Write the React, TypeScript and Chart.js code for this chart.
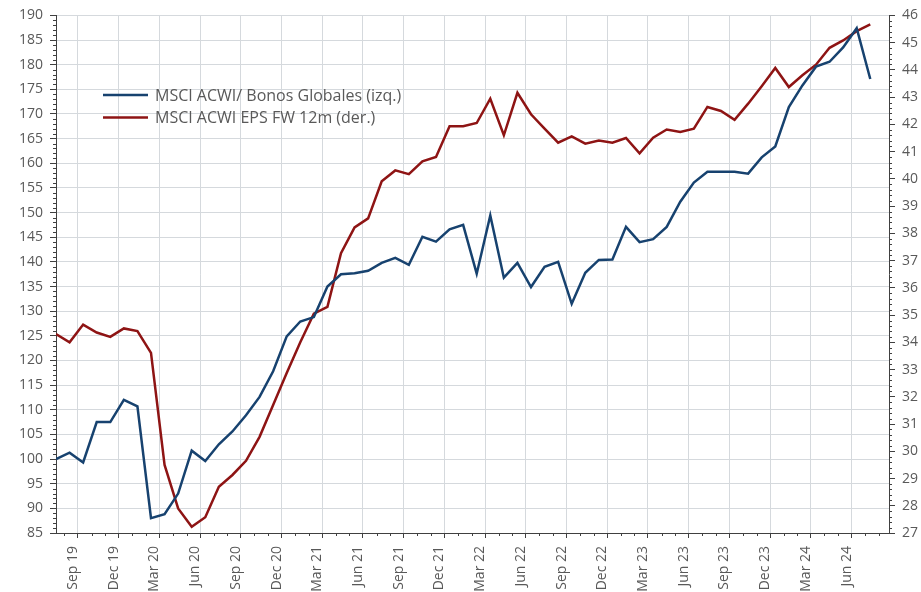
import React, { useEffect, useRef } from 'react';
import { Chart, registerables } from 'chart.js';

Chart.register(...registerables);

// Monthly observations, Jul 2019 .. Jul 2024
const msciBonos: number[] = [
  100, 101.3, 99.3, 107.5, 107.5, 112, 110.7, 88, 88.8, 93,
  101.7, 99.6, 103, 105.6, 108.9, 112.6, 117.8, 124.9, 127.9, 128.8,
  135, 137.5, 137.7, 138.2, 139.8, 140.8, 139.4, 145.1, 144.1, 146.6,
  147.5, 137.6, 149.4, 136.8, 139.8, 134.9, 139, 140, 131.5, 137.8,
  140.4, 140.5, 147.1, 144, 144.6, 147.1, 152.2, 156.1, 158.3, 158.3,
  158.3, 157.9, 161.2, 163.4, 171.4, 175.8, 179.6, 180.6, 183.5, 187.4,
  177.1,
];

const msciEps: number[] = [
  34.3, 34.0, 34.65, 34.36, 34.2, 34.51, 34.41, 33.61, 29.5, 27.9,
  27.23, 27.58, 28.7, 29.13, 29.65, 30.53, 31.7, 32.87, 34.0, 35.05,
  35.3, 37.27, 38.22, 38.55, 39.91, 40.31, 40.17, 40.64, 40.8, 41.93,
  41.93, 42.05, 42.94, 41.6, 43.16, 42.37, 41.84, 41.33, 41.56, 41.29,
  41.41, 41.33, 41.5, 40.94, 41.51, 41.81, 41.72, 41.84, 42.64, 42.49,
  42.17, 42.76, 43.4, 44.07, 43.37, 43.8, 44.19, 44.81, 45.08, 45.42,
  45.67,
];

const xTickLabels: string[] = [
  'Sep 19', 'Dec 19', 'Mar 20', 'Jun 20', 'Sep 20', 'Dec 20', 'Mar 21',
  'Jun 21', 'Sep 21', 'Dec 21', 'Mar 22', 'Jun 22', 'Sep 22', 'Dec 22',
  'Mar 23', 'Jun 23', 'Sep 23', 'Dec 23', 'Mar 24', 'Jun 24',
];

const legendLabels: string[] = [
  'MSCI ACWI/ Bonos Globales (izq.)',
  'MSCI ACWI EPS FW 12m (der.)',
];

// month-start boundaries relative to first observation (first obs mid-July)
const MONTH_START = 0.62;
const X_MAX = 61.38;

const BLUE = '#17426F';
const RED = '#8E1414';
const GRID = '#D5D9DD';
const AXIS = '#404040';
const TEXT = '#595959';
const FONT = "'Open Sans', sans-serif";

const minorTicksPlugin = {
  id: 'minorTicks',
  afterDraw(chart: any) {
    const { ctx, chartArea } = chart;
    const x = chart.scales.x;
    const yL = chart.scales.yL;
    const yR = chart.scales.yR;
    ctx.save();
    ctx.strokeStyle = AXIS;
    ctx.lineWidth = 1;
    ctx.beginPath();
    for (let k = 0; MONTH_START + k <= X_MAX; k++) {
      if (k % 3 === 1) continue;
      const px = Math.round(x.getPixelForValue(MONTH_START + k)) + 0.5;
      ctx.moveTo(px, chartArea.bottom);
      ctx.lineTo(px, chartArea.bottom + 3);
    }
    for (let v = 85; v <= 190; v++) {
      if (v % 5 === 0) continue;
      const py = Math.round(yL.getPixelForValue(v)) + 0.5;
      ctx.moveTo(chartArea.left - 3, py);
      ctx.lineTo(chartArea.left, py);
    }
    for (let j = 0; j <= 95; j++) {
      if (j % 5 === 0) continue;
      const py = Math.round(yR.getPixelForValue(27 + j * 0.2)) + 0.5;
      ctx.moveTo(chartArea.right, py);
      ctx.lineTo(chartArea.right + 3, py);
    }
    ctx.stroke();
    ctx.restore();
  },
};

const legendPlugin = {
  id: 'insideLegend',
  afterDraw(chart: any) {
    const { ctx } = chart;
    ctx.save();
    ctx.font = `16px ${FONT}`;
    ctx.textBaseline = 'middle';
    ctx.fillStyle = TEXT;
    const rows = [95, 117.5];
    chart.data.datasets.forEach((ds: any, i: number) => {
      const y = rows[i];
      ctx.strokeStyle = ds.borderColor;
      ctx.lineWidth = 2.5;
      ctx.beginPath();
      ctx.moveTo(103, y);
      ctx.lineTo(148, y);
      ctx.stroke();
      ctx.fillText(legendLabels[i], 155, y + 1);
    });
    ctx.restore();
  },
};

export default function App() {
  const canvasRef = useRef<HTMLCanvasElement | null>(null);

  useEffect(() => {
    document.body.style.margin = '0';
    const canvas = canvasRef.current;
    if (!canvas) return;
    const chart = new Chart(canvas, {
      type: 'line',
      data: {
        datasets: [
          {
            label: legendLabels[0],
            data: msciBonos.map((v, i) => ({ x: i, y: v })),
            borderColor: BLUE,
            backgroundColor: BLUE,
            borderWidth: 2.5,
            pointRadius: 0,
            tension: 0,
            yAxisID: 'yL',
          },
          {
            label: legendLabels[1],
            data: msciEps.map((v, i) => ({ x: i, y: v })),
            borderColor: RED,
            backgroundColor: RED,
            borderWidth: 2.5,
            pointRadius: 0,
            tension: 0,
            yAxisID: 'yR',
          },
        ],
      },
      options: {
        animation: false,
        responsive: true,
        maintainAspectRatio: false,
        layout: { padding: { top: 15, left: 0, right: 0, bottom: 0 } },
        plugins: {
          legend: { display: false },
          tooltip: { enabled: false },
        },
        scales: {
          x: {
            type: 'linear',
            min: 0,
            max: X_MAX,
            afterBuildTicks(scale: any) {
              scale.ticks = xTickLabels.map((_, j) => ({ value: MONTH_START + 1 + 3 * j }));
            },
            afterFit(scale: any) {
              scale.height = 59;
            },
            grid: {
              color: GRID,
              tickColor: AXIS,
              tickLength: 5,
              drawOnChartArea: true,
            },
            border: { display: true, color: AXIS, width: 1 },
            ticks: {
              autoSkip: false,
              minRotation: 90,
              maxRotation: 90,
              padding: 8,
              labelOffset: -5,
              color: TEXT,
              font: { family: FONT, size: 14 },
              callback: (_v: any, idx: number) => xTickLabels[idx] ?? '',
            },
          },
          yL: {
            type: 'linear',
            position: 'left',
            min: 85,
            max: 190,
            afterFit(scale: any) {
              scale.width = 56;
            },
            grid: { color: GRID, tickColor: AXIS, tickLength: 6 },
            border: { display: true, color: AXIS, width: 1 },
            ticks: {
              stepSize: 5,
              autoSkip: false,
              padding: 7,
              color: TEXT,
              font: { family: FONT, size: 14 },
            },
          },
          yR: {
            type: 'linear',
            position: 'right',
            min: 27,
            max: 46,
            afterFit(scale: any) {
              scale.width = 32;
            },
            grid: { drawOnChartArea: false, tickColor: AXIS, tickLength: 6 },
            border: { display: true, color: AXIS, width: 1 },
            ticks: {
              stepSize: 1,
              autoSkip: false,
              padding: 7,
              color: TEXT,
              font: { family: FONT, size: 14 },
            },
          },
        },
      },
      plugins: [minorTicksPlugin, legendPlugin],
    });
    return () => chart.destroy();
  }, []);

  return (
    <div style={{ position: 'relative', width: 921, height: 592, background: '#fff' }}>
      <canvas ref={canvasRef} />
    </div>
  );
}
